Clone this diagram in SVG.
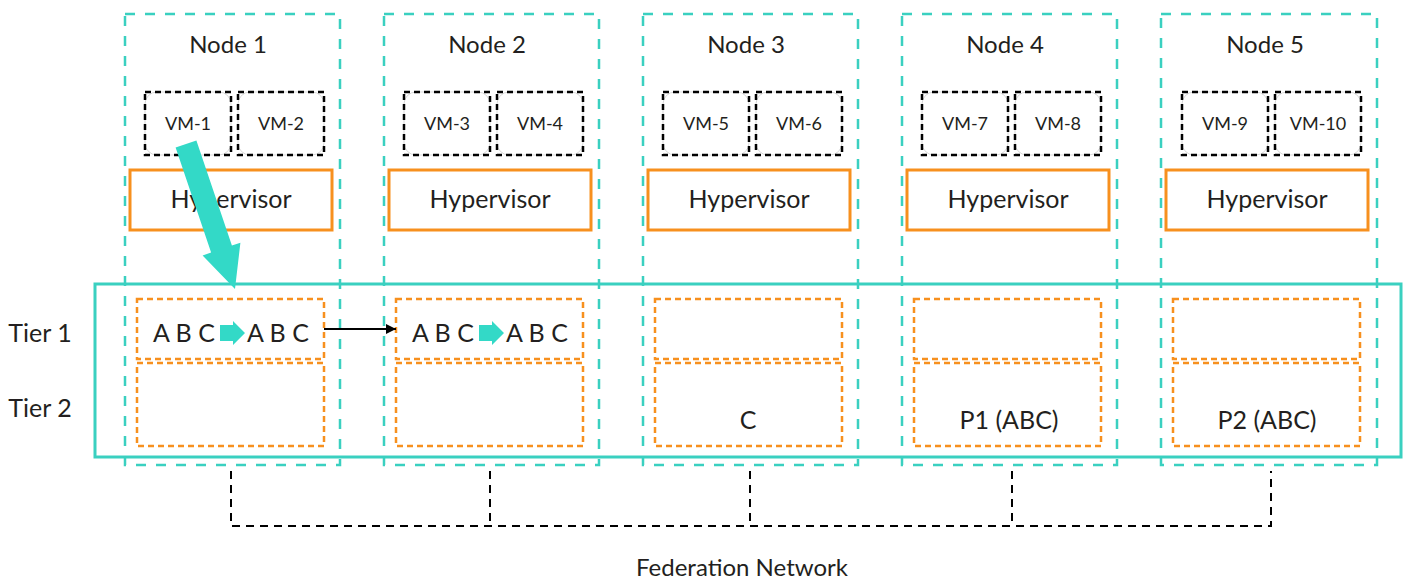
<svg xmlns="http://www.w3.org/2000/svg" width="1407" height="582" viewBox="0 0 1407 582">
<defs>
<style>
text{font-family:Lato,"Noto Sans","Liberation Sans",sans-serif;fill:#231f20;text-anchor:middle}
.node{fill:none;stroke:#3ad0c0;stroke-width:2.5;stroke-dasharray:10 10}
.vm{fill:none;stroke:#000;stroke-width:2.5;stroke-dasharray:6 4}
.vmr{fill:none;stroke:#cfcfcf;stroke-width:0.8}
.hyp{fill:#fff;stroke:#f7901e;stroke-width:3}
.tier{fill:none;stroke:#f7901e;stroke-width:2.5;stroke-dasharray:6 4}
.title{font-size:24px}
.vmt{font-size:18px}
.big{font-size:25px}
.fed{fill:none;stroke:#000;stroke-width:2;stroke-dasharray:8 6}
.teal{fill:#33d9c7}
</style>
<marker id="ah" viewBox="0 0 10 10" refX="10" refY="5" markerWidth="10" markerHeight="10" markerUnits="userSpaceOnUse" orient="auto">
<path d="M0,0 L10,5 L0,10 z" fill="#000"/>
</marker>
<g id="abcArrow"><polygon class="teal" points="0,4 13,4 13,0 25,12 13,24 13,20 0,20"/></g>
</defs>
<rect width="1407" height="582" fill="#fff"/>

<rect x="95" y="284" width="1306" height="173" fill="none" stroke="#3ad0c0" stroke-width="3"/>

<g id="node1">
<rect class="node" x="125" y="14" width="215" height="451"/>
<text class="title" x="228" y="53">Node 1</text>
<rect class="vmr" x="145" y="92" width="86" height="63" rx="12"/><rect class="vm" x="145" y="92" width="86" height="63"/>
<text class="vmt" x="188" y="130">VM-1</text>
<rect class="vmr" x="238" y="92" width="86" height="63" rx="12"/><rect class="vm" x="238" y="92" width="86" height="63"/>
<text class="vmt" x="281" y="130">VM-2</text>
<rect class="hyp" x="130" y="170" width="202" height="60"/>
<text class="big" x="231" y="208">Hypervisor</text>
<rect class="tier" x="137" y="299" width="187" height="60"/>
<rect class="tier" x="137" y="363" width="187" height="83"/>
<text class="big" x="184" y="342">A B C</text>
<use href="#abcArrow" x="220" y="321"/>
<text class="big" x="278" y="342">A B C</text>
</g>

<g id="node2">
<rect class="node" x="384" y="14" width="215" height="451"/>
<text class="title" x="487" y="53">Node 2</text>
<rect class="vmr" x="404" y="92" width="86" height="63" rx="12"/><rect class="vm" x="404" y="92" width="86" height="63"/>
<text class="vmt" x="447" y="130">VM-3</text>
<rect class="vmr" x="497" y="92" width="86" height="63" rx="12"/><rect class="vm" x="497" y="92" width="86" height="63"/>
<text class="vmt" x="540" y="130">VM-4</text>
<rect class="hyp" x="389" y="170" width="202" height="60"/>
<text class="big" x="490" y="208">Hypervisor</text>
<rect class="tier" x="396" y="299" width="187" height="60"/>
<rect class="tier" x="396" y="363" width="187" height="83"/>
<text class="big" x="443" y="342">A B C</text>
<use href="#abcArrow" x="479" y="321"/>
<text class="big" x="537" y="342">A B C</text>
</g>

<g id="node3">
<rect class="node" x="643" y="14" width="215" height="451"/>
<text class="title" x="746" y="53">Node 3</text>
<rect class="vmr" x="663" y="92" width="86" height="63" rx="12"/><rect class="vm" x="663" y="92" width="86" height="63"/>
<text class="vmt" x="706" y="130">VM-5</text>
<rect class="vmr" x="756" y="92" width="86" height="63" rx="12"/><rect class="vm" x="756" y="92" width="86" height="63"/>
<text class="vmt" x="799" y="130">VM-6</text>
<rect class="hyp" x="648" y="170" width="202" height="60"/>
<text class="big" x="749" y="208">Hypervisor</text>
<rect class="tier" x="655" y="299" width="187" height="60"/>
<rect class="tier" x="655" y="363" width="187" height="83"/>
<text class="big" x="748" y="429">C</text>
</g>

<g id="node4">
<rect class="node" x="902" y="14" width="215" height="451"/>
<text class="title" x="1005" y="53">Node 4</text>
<rect class="vmr" x="922" y="92" width="86" height="63" rx="12"/><rect class="vm" x="922" y="92" width="86" height="63"/>
<text class="vmt" x="965" y="130">VM-7</text>
<rect class="vmr" x="1015" y="92" width="86" height="63" rx="12"/><rect class="vm" x="1015" y="92" width="86" height="63"/>
<text class="vmt" x="1058" y="130">VM-8</text>
<rect class="hyp" x="907" y="170" width="202" height="60"/>
<text class="big" x="1008" y="208">Hypervisor</text>
<rect class="tier" x="914" y="299" width="187" height="60"/>
<rect class="tier" x="914" y="363" width="187" height="83"/>
<text class="big" x="1009" y="429">P1 (ABC)</text>
</g>

<g id="node5">
<rect class="node" x="1161" y="14" width="216" height="451"/>
<text class="title" x="1265" y="53">Node 5</text>
<rect class="vmr" x="1182" y="92" width="86" height="63" rx="12"/><rect class="vm" x="1182" y="92" width="86" height="63"/>
<text class="vmt" x="1225" y="130">VM-9</text>
<rect class="vmr" x="1275" y="92" width="86" height="63" rx="12"/><rect class="vm" x="1275" y="92" width="86" height="63"/>
<text class="vmt" x="1318" y="130">VM-10</text>
<rect class="hyp" x="1166" y="170" width="202" height="60"/>
<text class="big" x="1267" y="208">Hypervisor</text>
<rect class="tier" x="1173" y="299" width="187" height="60"/>
<rect class="tier" x="1173" y="363" width="187" height="83"/>
<text class="big" x="1267" y="429">P2 (ABC)</text>
</g>

<g id="labels">
<text class="big" x="40" y="342">Tier 1</text>
<text class="big" x="40" y="417">Tier 2</text>
<text class="title" x="742" y="576">Federation Network</text>
</g>

<g id="connectors">
<line x1="324" y1="329" x2="396" y2="329" stroke="#000" stroke-width="2" marker-end="url(#ah)"/>
<path class="fed" d="M231,471 V526 H1271 V471 M490,471 V526 M750,471 V526 M1012,471 V526"/>
<polygon class="teal" points="175.6,147.5 196.4,140.5 231.9,245.6 240.4,242.7 235,289 202.6,255.5 211.1,252.6"/>
</g>
</svg>
